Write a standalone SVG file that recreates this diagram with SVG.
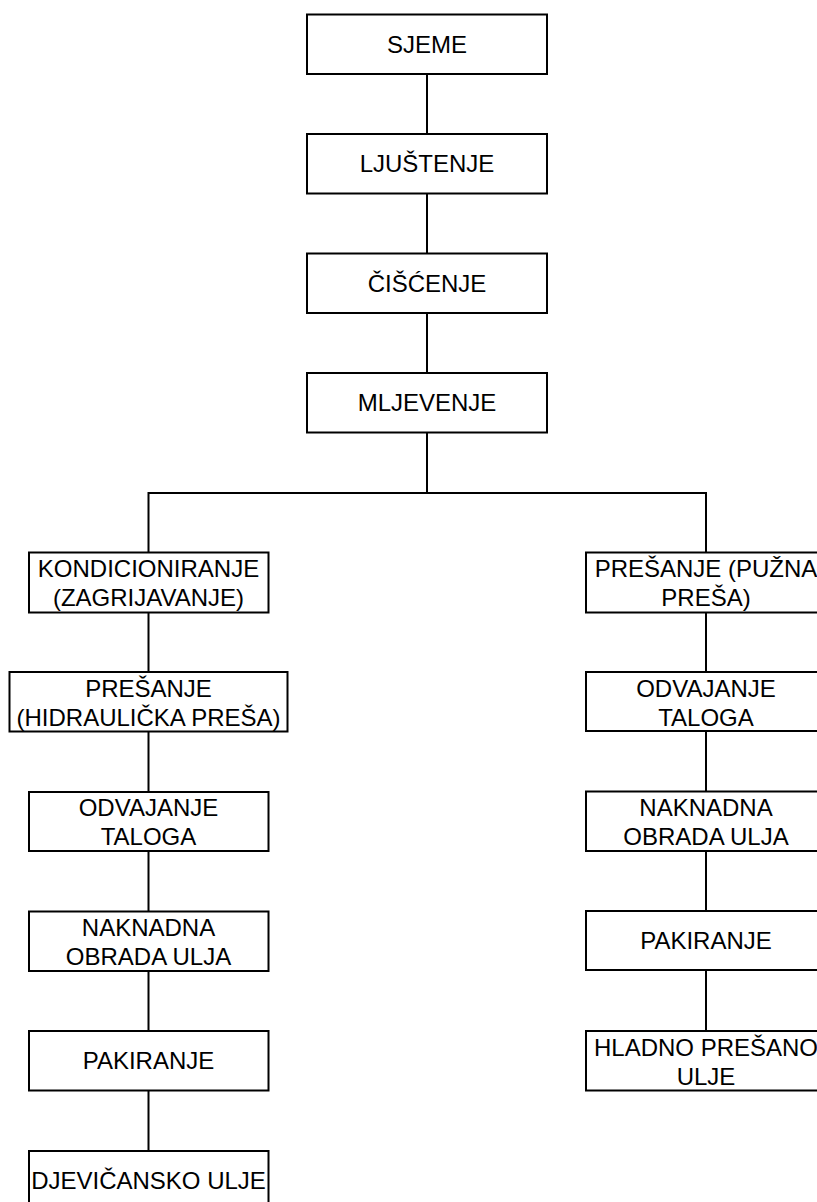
<svg xmlns="http://www.w3.org/2000/svg" width="817" height="1202" viewBox="0 0 817 1202">
<style>
rect{fill:#fff;stroke:#000;stroke-width:2}
.c line,.c path{stroke:#000;stroke-width:2;fill:none}
text{font-family:"Liberation Sans",Arial,sans-serif;font-size:24px;fill:#000;text-anchor:middle}
</style>
<rect x="0" y="0" width="817" height="1202" style="stroke:none"/>
<g class="c" id="connectors">
<line x1="427" y1="74" x2="427" y2="134"/>
<line x1="427" y1="193" x2="427" y2="253"/>
<line x1="427" y1="313" x2="427" y2="373"/>
<line x1="427" y1="433" x2="427" y2="493"/>
<path d="M148.5 552 V493 H706 V552"/>
<line x1="148.5" y1="612" x2="148.5" y2="672"/>
<line x1="148.5" y1="731" x2="148.5" y2="792"/>
<line x1="148.5" y1="851" x2="148.5" y2="911"/>
<line x1="148.5" y1="971" x2="148.5" y2="1031"/>
<line x1="148.5" y1="1090" x2="148.5" y2="1151"/>
<line x1="706" y1="612" x2="706" y2="672"/>
<line x1="706" y1="731" x2="706" y2="792"/>
<line x1="706" y1="851" x2="706" y2="911"/>
<line x1="706" y1="970" x2="706" y2="1031"/>
</g>
<g id="sjeme"><rect x="307" y="14.5" width="240" height="59.5"/><text x="427" y="52.5">SJEME</text></g>
<g id="ljustenje"><rect x="307" y="134" width="240" height="59.5"/><text x="427" y="172">LJUŠTENJE</text></g>
<g id="ciscenje"><rect x="307" y="253.5" width="240" height="59.5"/><text x="427" y="291.5">ČIŠĆENJE</text></g>
<g id="mljevenje"><rect x="307" y="373" width="240" height="59.5"/><text x="427" y="411">MLJEVENJE</text></g>
<g id="kondicioniranje"><rect x="29" y="552.5" width="239.5" height="60"/><text x="148.5" y="577">KONDICIONIRANJE</text><text x="148.5" y="606">(ZAGRIJAVANJE)</text></g>
<g id="presanje-h"><rect x="9.5" y="672" width="278" height="59.5"/><text x="148.5" y="696.5">PREŠANJE</text><text x="148.5" y="725.5">(HIDRAULIČKA PREŠA)</text></g>
<g id="odvajanje-l"><rect x="29" y="792" width="239.5" height="59"/><text x="148.5" y="816">ODVAJANJE</text><text x="148.5" y="845">TALOGA</text></g>
<g id="naknadna-l"><rect x="29" y="911.5" width="239.5" height="59.5"/><text x="148.5" y="935.5">NAKNADNA</text><text x="148.5" y="964.5">OBRADA ULJA</text></g>
<g id="pakiranje-l"><rect x="29" y="1031" width="239.5" height="59.5"/><text x="148.5" y="1069">PAKIRANJE</text></g>
<g id="djevicansko"><rect x="29" y="1151" width="239.5" height="60"/><text x="148.5" y="1188.5">DJEVIČANSKO ULJE</text></g>
<g id="presanje-p"><rect x="586" y="552.5" width="240" height="60"/><text x="706" y="577">PREŠANJE (PUŽNA</text><text x="706" y="606">PREŠA)</text></g>
<g id="odvajanje-r"><rect x="586" y="672" width="240" height="59"/><text x="706" y="696.5">ODVAJANJE</text><text x="706" y="725.5">TALOGA</text></g>
<g id="naknadna-r"><rect x="586" y="791.5" width="240" height="59.5"/><text x="706" y="815.5">NAKNADNA</text><text x="706" y="844.5">OBRADA ULJA</text></g>
<g id="pakiranje-r"><rect x="586" y="911" width="240" height="59"/><text x="706" y="949">PAKIRANJE</text></g>
<g id="hladno"><rect x="586" y="1031" width="240" height="59.5"/><text x="706" y="1055.5">HLADNO PREŠANO</text><text x="706" y="1084.5">ULJE</text></g>
</svg>
